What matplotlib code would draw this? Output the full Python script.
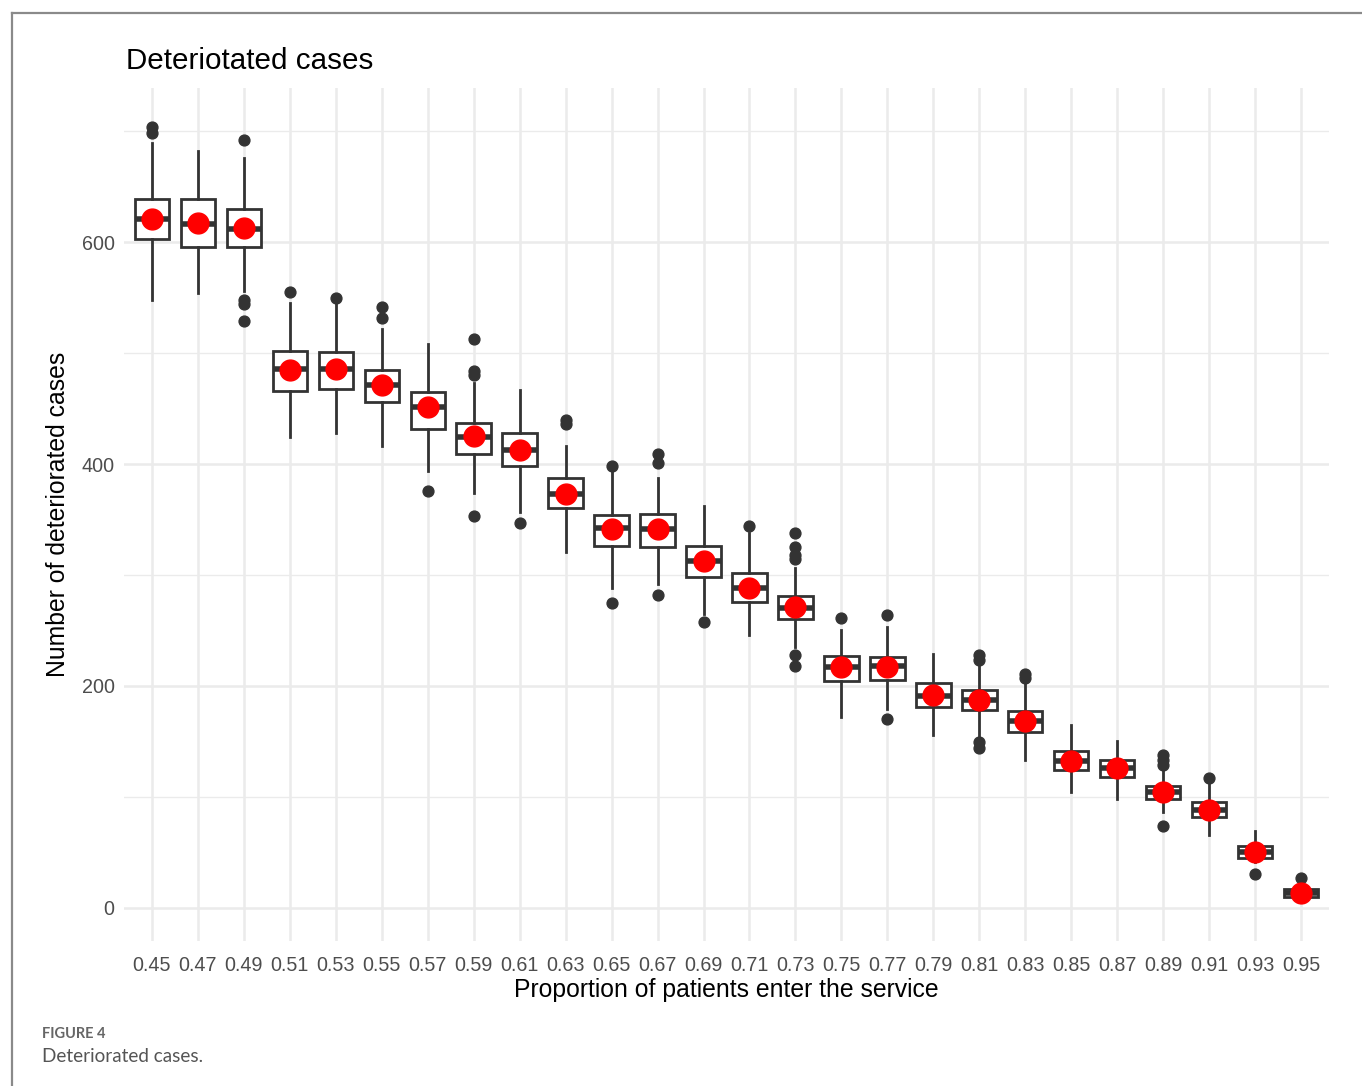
import numpy as np
import matplotlib
matplotlib.use('Agg')
import matplotlib.pyplot as plt
from matplotlib.lines import Line2D

plt.rcParams['font.family'] = ['Liberation Sans', 'DejaVu Sans']

#proportion of patients entering the service
props = ['0.45','0.47','0.49','0.51','0.53','0.55','0.57','0.59','0.61','0.63',
         '0.65','0.67','0.69','0.71','0.73','0.75','0.77','0.79','0.81','0.83',
         '0.85','0.87','0.89','0.91','0.93','0.95']

#box summaries
whislo = [548,554,556,424,428,416,394,374,357,321,288,292,265,246,235,172,179,156,151,133,104,98,86,66,41,5]
q1     = [603,596,596,466,468,456,432,409,398,360,326,325,298,276,260,204,205,181,178,158,124,118,98,82,45,10]
med    = [621,616,612,486,486,471,451,424,413,373,342,341,313,288,270,217,218,191,187,168,132,126,104,88,50,13]
q3     = [639,639,630,502,501,485,465,437,428,387,354,355,326,302,281,227,226,203,196,177,141,133,110,95,56,17]
whishi = [689,682,676,545,544,522,508,473,467,416,393,387,362,338,306,250,253,229,220,205,165,150,126,113,69,22]
means  = [621,617,613,485,486,471,451,425,413,373,341,341,313,288,271,217,217,192,187,168,132,126,104,88,50,13]
outliers = [[698,704],[],[692,548,544,529],[555],[550],[542,532],[376],[513,484,480,353],
            [347],[440,436],[398,275],[409,401,282],[258],[344],[338,325,318,314,228,218],
            [261],[264,170],[],[228,223,149,144],[211,207],[],[],[138,133,129,74],[117],[30],[27]]

n = len(props)
pos = np.arange(n)

fig = plt.figure(figsize=(13.62,10.86), dpi=100)
ax = fig.add_axes([124.4/1362, 1-941/1086, (1328.6-124.4)/1362, (941-88)/1086])

#grid like theme_minimal
ax.set_axisbelow(True)
ax.set_yticks([0,200,400,600])
ax.set_yticks([100,300,500,700], minor=True)
ax.grid(True, which='major', color='#ebebeb', lw=1.8)
ax.grid(True, which='minor', axis='y', color='#ebebeb', lw=1.0)

stats = []
for i in range(n):
    stats.append(dict(whislo=whislo[i], q1=q1[i], med=med[i], q3=q3[i],
                      whishi=whishi[i], fliers=outliers[i]))

dark = '#333333'
ax.bxp(stats, positions=pos, widths=0.75, showcaps=False, patch_artist=True,
       boxprops=dict(facecolor='white', edgecolor=dark, lw=2.0),
       whiskerprops=dict(color=dark, lw=2.0),
       medianprops=dict(color=dark, lw=4.0, solid_capstyle='butt'),
       flierprops=dict(marker='o', markerfacecolor=dark, markeredgecolor=dark, markersize=7.8))
ax.plot(pos, means, 'o', color='red', markersize=15, zorder=5)

ax.set_xlim(-0.6, n-1+0.6)
ax.set_ylim(-30, 739)
ax.set_xticks(pos)
ax.set_xticklabels(props)
ax.tick_params(axis='both', which='both', length=0, labelsize=14.2, labelcolor='#4d4d4d')
ax.tick_params(axis='x', pad=11)
ax.tick_params(axis='y', pad=7)
for s in ax.spines.values():
    s.set_visible(False)

ax.set_xlabel('Proportion of patients enter the service', fontsize=17.8, labelpad=2)
ax.set_ylabel('Number of deteriorated cases', fontsize=17.8, labelpad=8)
fig.text(126/1362, 1-61/1086, 'Deteriotated cases', fontsize=21.3, va='center', ha='left')

#page frame and caption
fig.add_artist(Line2D([12/1362,12/1362], [0,1-12.5/1086], color='#8a8a8a', lw=1.6))
fig.add_artist(Line2D([12/1362,1], [1-12.5/1086,1-12.5/1086], color='#8a8a8a', lw=1.6))
fig.text(42/1362, 1-1034/1086, 'FIGURE 4', fontsize=10.5, color='#666666', va='center',
         family=['Lato','DejaVu Sans'], fontweight='bold')
fig.text(42/1362, 1-1057/1086, 'Deteriorated cases.', fontsize=13.6, color='#555555', va='center',
         family=['Lato','DejaVu Sans'])

plt.savefig('out.png', dpi=100)
